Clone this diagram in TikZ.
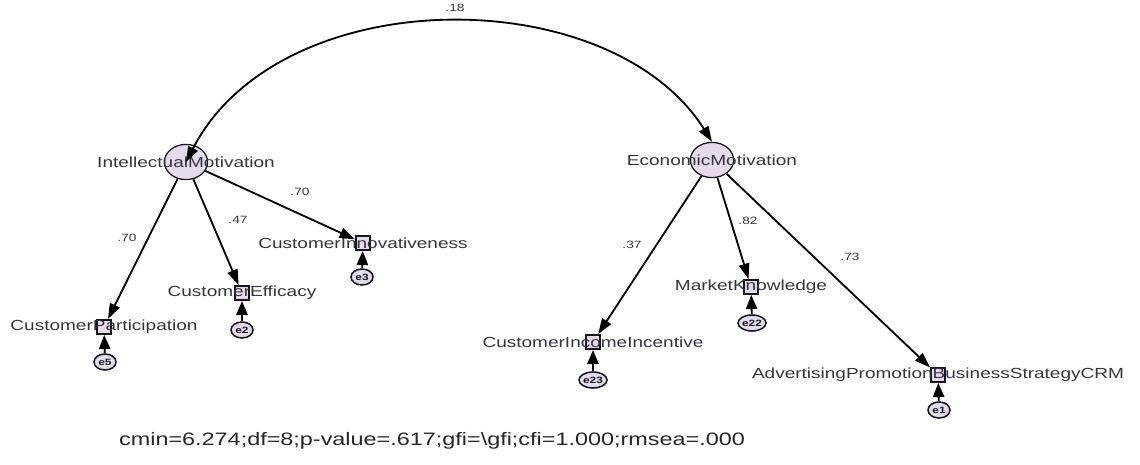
\documentclass[tikz,border=0pt]{standalone}
\usepackage{fontspec}
\newfontfamily\amosfont[FakeStretch=1.3]{Liberation Sans}
\usetikzlibrary{arrows.meta,shapes.geometric}
\definecolor{AMOSFill}{HTML}{E6DBEB}
\definecolor{AMOSText}{HTML}{34343F}
\definecolor{AMOSLine}{HTML}{15151F}

\begin{document}
\begin{tikzpicture}[x=0.025cm,y=-0.025cm,
    latent/.style={
      ellipse,
      draw=AMOSLine,
      fill=AMOSFill,
      line width=0.9pt,
      minimum width=1.08cm,
      minimum height=0.88cm,
      inner sep=0pt
    },
    observed/.style={
      rectangle,
      draw=AMOSLine,
      fill=AMOSFill,
      line width=1.1pt,
      minimum size=0.36cm,
      inner sep=0pt
    },
    errvar/.style={
      ellipse,
      draw=AMOSLine,
      fill=AMOSFill,
      line width=1.1pt,
      minimum width=0.55cm,
      minimum height=0.4cm,
      inner sep=0pt,
      text=AMOSLine,
      font=\amosfont\bfseries\fontsize{6.5}{7}\selectfont
    },
    varlbl/.style={
      inner sep=0pt,
      text=AMOSText,
      font=\amosfont\fontsize{10.4}{12}\selectfont
    },
    coef/.style={
      inner sep=1pt,
      text=AMOSText,
      font=\amosfont\fontsize{7.5}{8}\selectfont
    },
    load/.style={
      line width=1.3pt,
      -{Triangle[length=11pt,width=7.5pt]}
    },
    errload/.style={
      line width=1.3pt,
      -{Triangle[length=10pt,width=8pt]}
    },
    cov/.style={
      line width=1.3pt,
      {Triangle[length=11pt,width=7.5pt]}-{Triangle[length=11pt,width=7.5pt]}
    }
  ]
  \useasboundingbox (0,0) rectangle (1140,465);

  % Latent variables
  \node[latent] (im) at (186,162) {};
  \node[latent] (em) at (712,160) {};

  % Observed variables
  \node[observed] (cp)  at (104,327) {};
  \node[observed] (ce)  at (242,293) {};
  \node[observed] (ci)  at (363,243) {};
  \node[observed] (cii) at (593,342) {};
  \node[observed] (mk)  at (751,287) {};
  \node[observed] (abs) at (938,375) {};

  % Errors
  \node[errvar] (e5)  at (105,362) {e5};
  \node[errvar] (e2)  at (242,330) {e2};
  \node[errvar] (e3)  at (362,277) {e3};
  \node[errvar] (e23) at (593,380) {e23};
  \node[errvar] (e22) at (752,323) {e22};
  \node[errvar] (e1)  at (939,410) {e1};

  % Variable names
  \node[varlbl] (imname)  at (im)  {IntellectualMotivation};
  \node[varlbl] (emname)  at (em)  {EconomicMotivation};
  \node[varlbl] (cpname)  at (cp)  {CustomerParticipation};
  \node[varlbl] (cename)  at (ce)  {CustomerEfficacy};
  \node[varlbl] (ciname)  at (ci)  {CustomerInnovativeness};
  \node[varlbl] (ciiname) at (cii) {CustomerIncomeIncentive};
  \node[varlbl] (mkname)  at (mk)  {MarketKnowledge};
  \node[varlbl] (absname) at (abs) {AdvertisingPromotionBusinessStrategyCRM};

  % Paths
  \draw[cov] (im.center) .. controls (280,-20) and (610,-20) .. (em.north);
  \draw[load] (im) -- (cp);
  \draw[load] (im) -- (ce);
  \draw[load] (im) -- (ci);
  \draw[load] (em) -- (cii);
  \draw[load] (em) -- (mk);
  \draw[load] (em) -- (abs);
  \draw[errload] (e5) -- (cp);
  \draw[errload] (e2) -- (ce);
  \draw[errload] (e3) -- (ci);
  \draw[errload] (e23) -- (cii);
  \draw[errload] (e22) -- (mk);
  \draw[errload] (e1) -- (abs);

  % Estimates
  \node[coef] (r18) at (455,8)   {.18};
  \node[coef] (l1)  at (127,238) {.70};
  \node[coef] (l2)  at (238,220) {.47};
  \node[coef] (l3)  at (300,192) {.70};
  \node[coef] (l4)  at (632,245) {.37};
  \node[coef] (l5)  at (748,221) {.82};
  \node[coef] (l6)  at (850,257) {.73};

  % Fit
  \node[text=black!85,inner sep=0pt,font=\amosfont\fontsize{12.8}{14}\selectfont] (fit) at (432,441)
    {cmin=6.274;df=8;p-value=.617;gfi=\textbackslash gfi;cfi=1.000;rmsea=.000};

\end{tikzpicture}
\end{document}
